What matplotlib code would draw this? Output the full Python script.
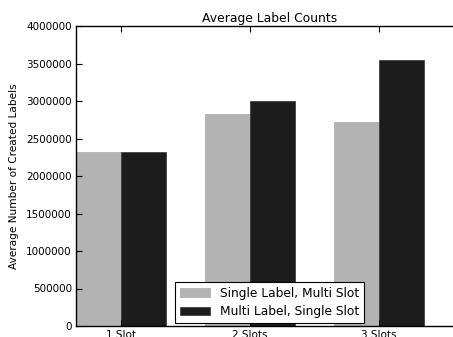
import matplotlib
matplotlib.use("Agg")
import matplotlib.pyplot as plt
import numpy as np

categories = ["1 Slot", "2 Slots", "3 Slots"]
single_label_multi_slot = [2320000, 2830000, 2725000]
multi_label_single_slot = [2320000, 3000000, 3545000]
series_names = ["Single Label, Multi Slot", "Multi Label, Single Slot"]

fig = plt.figure(figsize=(4.53, 3.37), dpi=100)
ax = fig.add_axes([76/453, 1-326/337, 387/453, 300/337])

ind = np.arange(len(categories))
width = 0.35
ax.bar(ind, single_label_multi_slot, width, align="edge", color="#b3b3b3",
       edgecolor="#a8a8a8", linewidth=0.5, label=series_names[0])
ax.bar(ind + width, multi_label_single_slot, width, align="edge", color="#1c1c1c",
       edgecolor="#333333", linewidth=0.5, label=series_names[1])

ax.set_xlim(0, 3.0)
ax.set_ylim(0, 4000000)
ax.set_yticks(np.arange(0, 4000001, 500000))
ax.set_yticklabels([str(v) for v in range(0, 4000001, 500000)], fontsize=7.5)
ax.set_xticks(ind + width)
ax.set_xticklabels(categories, fontsize=7.5)
ax.tick_params(direction="in", length=4, width=0.8, top=True, right=True, pad=3)
ax.set_ylabel("Average Number of Created Labels", fontsize=7.6, labelpad=5)
ax.set_title("Average Label Counts", fontsize=8.9, pad=3)
for s in ax.spines.values():
    s.set_linewidth(1.0)
ax.spines["right"].set_visible(False)

leg = ax.legend(loc="lower center", bbox_to_anchor=(0.5, 0.0), fontsize=8.8,
                fancybox=False, framealpha=1, edgecolor="black",
                borderpad=0.4, handlelength=2.5, labelspacing=0.45, borderaxespad=0.25)
leg.get_frame().set_linewidth(0.8)

fig.savefig("out.png", dpi=100)
